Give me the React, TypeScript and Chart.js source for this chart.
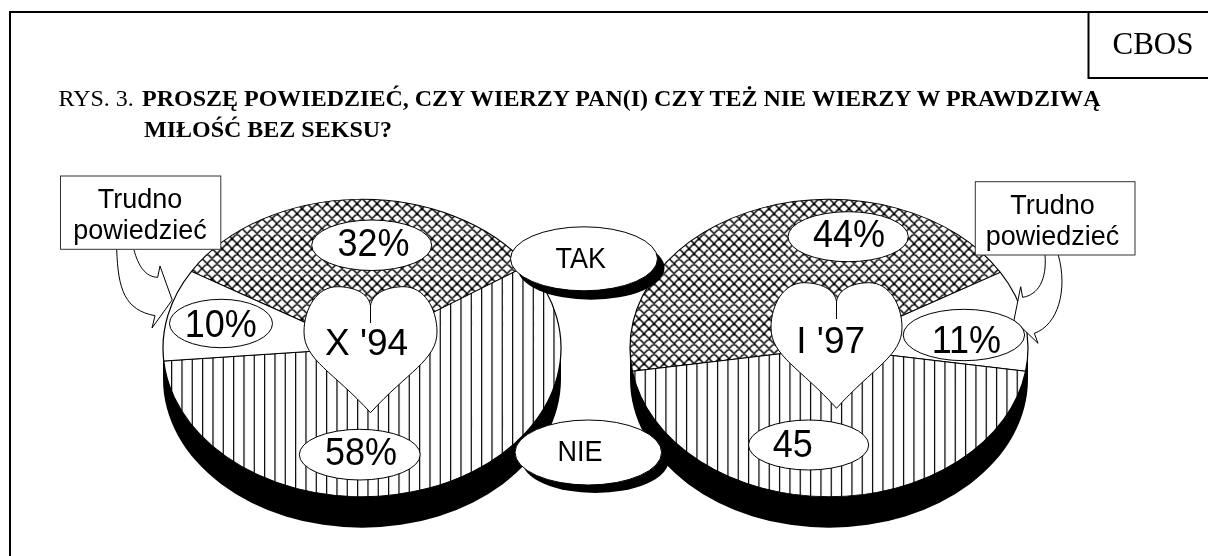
import React, { useEffect, useRef } from "react";
import { Chart, registerables } from "chart.js";

Chart.register(...registerables);

const leftCategories = ["TAK", "NIE", "Trudno powiedzieć"];
const leftValues = [32, 58, 10];
const leftLabels = ["32%", "58%", "10%"];
const rightCategories = ["TAK", "Trudno powiedzieć", "NIE"];
const rightValues = [44, 11, 45];
const rightLabels = ["44%", "11%", "45"];

const W = 1208, H = 556;
const R = 199, SQUASH = 148.7 / 199, DEPTH = 31, CY = 348;
const LEFT_CX = 362, RIGHT_CX = 829;
const SANS = "'Liberation Sans', Arial, sans-serif";
const SERIF = "'Liberation Serif', 'Times New Roman', serif";

function crossPattern(ctx: CanvasRenderingContext2D) {
  const c = document.createElement("canvas");
  c.width = 40; c.height = 40;
  const g = c.getContext("2d")!;
  g.fillStyle = "#fff"; g.fillRect(0, 0, 40, 40);
  g.strokeStyle = "#000"; g.lineWidth = 1.5;
  g.beginPath();
  for (let i = -40; i <= 80; i += 10) {
    g.moveTo(i, 0); g.lineTo(i + 40, 40);
    g.moveTo(i + 40, 0); g.lineTo(i, 40);
  }
  g.stroke();
  const p = ctx.createPattern(c, "repeat")!;
  p.setTransform(new DOMMatrix().scale(1, 1 / SQUASH));
  return p;
}

function stripePattern(ctx: CanvasRenderingContext2D, phase: number) {
  const c = document.createElement("canvas");
  c.width = 31; c.height = 10;
  const g = c.getContext("2d")!;
  g.fillStyle = "#fff"; g.fillRect(0, 0, 31, 10);
  g.fillStyle = "#000";
  for (let k = 0; k < 3; k++) g.fillRect(phase + k * (31 / 3), 0, 1.2, 10);
  return ctx.createPattern(c, "repeat")!;
}

const tiltPlugin = {
  id: "tilt",
  beforeDatasetsDraw(chart: any) {
    const { ctx, chartArea: a } = chart;
    const cx = (a.left + a.right) / 2, cy = (a.top + a.bottom) / 2;
    ctx.save();
    ctx.fillStyle = "#000";
    ctx.beginPath();
    ctx.ellipse(cx, cy + DEPTH, R, R * SQUASH, 0, 0, Math.PI * 2);
    ctx.rect(cx - R, cy, R * 2, DEPTH);
    ctx.fill();
    ctx.translate(cx, cy);
    ctx.scale(1, SQUASH);
    ctx.translate(-cx, -cy);
  },
  afterDatasetsDraw(chart: any) {
    chart.ctx.restore();
  },
};

function makePie(canvas: HTMLCanvasElement, categories: string[], values: number[], fills: any[], rotation: number) {
  return new Chart(canvas, {
    type: "pie",
    data: {
      labels: categories,
      datasets: [{ data: values, backgroundColor: fills, borderColor: "#000", borderWidth: 1.2, radius: R } as any],
    },
    options: {
      animation: false,
      responsive: false,
      rotation,
      layout: { padding: 0 },
      plugins: { legend: { display: false }, tooltip: { enabled: false } },
    },
    plugins: [tiltPlugin],
  } as any);
}

function heartPath(cx: number, top: number, hw: number, tip: number, notch: number) {
  const h = tip - top;
  const y = (f: number) => top + f * h;
  const cusp = y(0.15);
  return (
    `M ${cx} ${notch} L ${cx} ${cusp} ` +
    `C ${cx + 0.03 * hw} ${y(0.05)}, ${cx + 0.25 * hw} ${top}, ${cx + 0.5 * hw} ${top} ` +
    `C ${cx + 0.8 * hw} ${top}, ${cx + hw} ${y(0.17)}, ${cx + hw} ${y(0.36)} ` +
    `C ${cx + hw} ${y(0.58)}, ${cx + 0.55 * hw} ${y(0.68)}, ${cx} ${tip} ` +
    `C ${cx - 0.55 * hw} ${y(0.68)}, ${cx - hw} ${y(0.58)}, ${cx - hw} ${y(0.36)} ` +
    `C ${cx - hw} ${y(0.17)}, ${cx - 0.8 * hw} ${top}, ${cx - 0.5 * hw} ${top} ` +
    `C ${cx - 0.25 * hw} ${top}, ${cx - 0.03 * hw} ${y(0.05)}, ${cx} ${cusp} L ${cx} ${notch} Z`
  );
}

function Tall({ x, y, size, family = SANS, k = 1.08, children }: any) {
  return (
    <text transform={`translate(${x} ${y}) scale(1 ${k})`} textAnchor="middle" fontFamily={family} fontSize={size} fill="#000">
      {children}
    </text>
  );
}

function Oval({ x0, x1, y0, y1, label, tx, ty }: any) {
  return (
    <g>
      <ellipse cx={(x0 + x1) / 2} cy={(y0 + y1) / 2} rx={(x1 - x0) / 2} ry={(y1 - y0) / 2} fill="#fff" stroke="#000" strokeWidth={1} />
      <Tall x={tx} y={ty} size={36}>{label}</Tall>
    </g>
  );
}

function Pill({ cx, cy, rx, ry, dx, dy, label, tx, ty }: any) {
  return (
    <g>
      <ellipse cx={cx + dx} cy={cy + dy} rx={rx} ry={ry} fill="#000" />
      <ellipse cx={cx} cy={cy} rx={rx} ry={ry} fill="#fff" stroke="#000" strokeWidth={1} />
      <Tall x={tx} y={ty} size={27}>{label}</Tall>
    </g>
  );
}

function NoteBox({ x0, x1, y0, y1, cx, b1, b2 }: any) {
  return (
    <g>
      <rect x={x0} y={y0} width={x1 - x0} height={y1 - y0} fill="#fff" stroke="#333" strokeWidth={1} />
      <Tall x={cx} y={b1} size={27} k={1.04}>Trudno</Tall>
      <Tall x={cx} y={b2} size={27} k={1.04}>powiedzieć</Tall>
    </g>
  );
}

export default function App() {
  const leftRef = useRef<HTMLCanvasElement>(null);
  const rightRef = useRef<HTMLCanvasElement>(null);

  useEffect(() => {
    const lc = leftRef.current!, rc = rightRef.current!;
    const lx = lc.getContext("2d")!, rx = rc.getContext("2d")!;
    const a = makePie(lc, leftCategories, leftValues, [crossPattern(lx), stripePattern(lx, 9), "#fff"], -59);
    const b = makePie(rc, rightCategories, rightValues, [crossPattern(rx), "#fff", stripePattern(rx, 5.3)], -99);
    return () => { a.destroy(); b.destroy(); };
  }, []);

  const pieStyle = (cx: number): React.CSSProperties => ({
    position: "absolute", left: cx - 200, top: CY - 200, width: 400, height: 400,
  });

  return (
    <div style={{ position: "absolute", left: 0, top: 0, width: W, height: H, background: "#fff", overflow: "hidden" }}>
      <canvas ref={leftRef} width={400} height={400} style={pieStyle(LEFT_CX)} />
      <canvas ref={rightRef} width={400} height={400} style={pieStyle(RIGHT_CX)} />
      <svg width={W} height={H} style={{ position: "absolute", left: 0, top: 0 }}>
        <path d={`M 10 ${H} L 10 12 L ${W} 12`} fill="none" stroke="#000" strokeWidth={2} />
        <path d={`M 1088.5 12 L 1088.5 78 L ${W} 78`} fill="none" stroke="#000" strokeWidth={2} />
        <Tall x={1153} y={54} size={31} family={SERIF} k={1.05}>CBOS</Tall>

        <text x={58.5} y={106} fontFamily={SERIF} fontSize={24} fill="#000">RYS. 3.</text>
        <text x={142} y={106} fontFamily={SERIF} fontSize={24} fontWeight="bold" fill="#000">PROSZĘ POWIEDZIEĆ, CZY WIERZY PAN(I) CZY TEŻ NIE WIERZY W PRAWDZIWĄ</text>
        <text x={144} y={137} fontFamily={SERIF} fontSize={24} fontWeight="bold" fill="#000">MIŁOŚĆ BEZ SEKSU?</text>

        <path d="M 116.7 249.3 C 118 290 125 310 155 315.7 L 152 328 L 172.2 300 L 160 266 L 157.7 277.3 C 145 277 138 265 134 250" fill="#fff" stroke="#000" strokeWidth={1} />
        <path d="M 1045 255 C 1047 280 1038 295 1022.6 297.3 L 1020.7 286.7 L 1014 320 L 1038 343.3 L 1034.3 333.3 C 1058 325 1068 290 1058.3 255" fill="#fff" stroke="#000" strokeWidth={1} />

        <path d={heartPath(370.5, 286.7, 66.5, 412.7, 323)} fill="#fff" stroke="#000" strokeWidth={1} />
        <path d={heartPath(836.5, 282.7, 65.5, 408.3, 319)} fill="#fff" stroke="#000" strokeWidth={1} />
        <Tall x={366.6} y={355} size={37} k={1}>X '94</Tall>
        <Tall x={830.7} y={352.7} size={37} k={1}>I '97</Tall>

        <Oval x0={311.7} x1={431.7} y0={220} y1={270.5} label={leftLabels[0]} tx={373.5} ty={255.5} />
        <Oval x0={299.3} x1={420.2} y0={429.3} y1={480} label={leftLabels[1]} tx={361} ty={465} />
        <Oval x0={169.5} x1={272.5} y0={299.3} y1={347.7} label={leftLabels[2]} tx={220.8} ty={337} />
        <Oval x0={788} x1={908.3} y0={211.7} y1={261.7} label={rightLabels[0]} tx={849} ty={246.5} />
        <Oval x0={903.2} x1={1024.6} y0={309.3} y1={360.7} label={rightLabels[1]} tx={966.4} ty={353} />
        <Oval x0={748.5} x1={868.7} y0={420} y1={470} label={rightLabels[2]} tx={792.7} ty={456.5} />

        <Pill cx={584} cy={258.8} rx={73.5} ry={32} dx={7} dy={9} label={leftCategories[0]} tx={580.7} ty={268.3} />
        <Pill cx={588.3} cy={452.5} rx={73.3} ry={32.5} dx={7} dy={8} label={leftCategories[1]} tx={580} ty={460.7} />

        <NoteBox x0={60.5} x1={220.8} y0={176} y1={249.3} cx={140} b1={208} b2={239} />
        <NoteBox x0={975.3} x1={1135} y0={181.7} y1={255} cx={1052.5} b1={214} b2={245} />
      </svg>
    </div>
  );
}
